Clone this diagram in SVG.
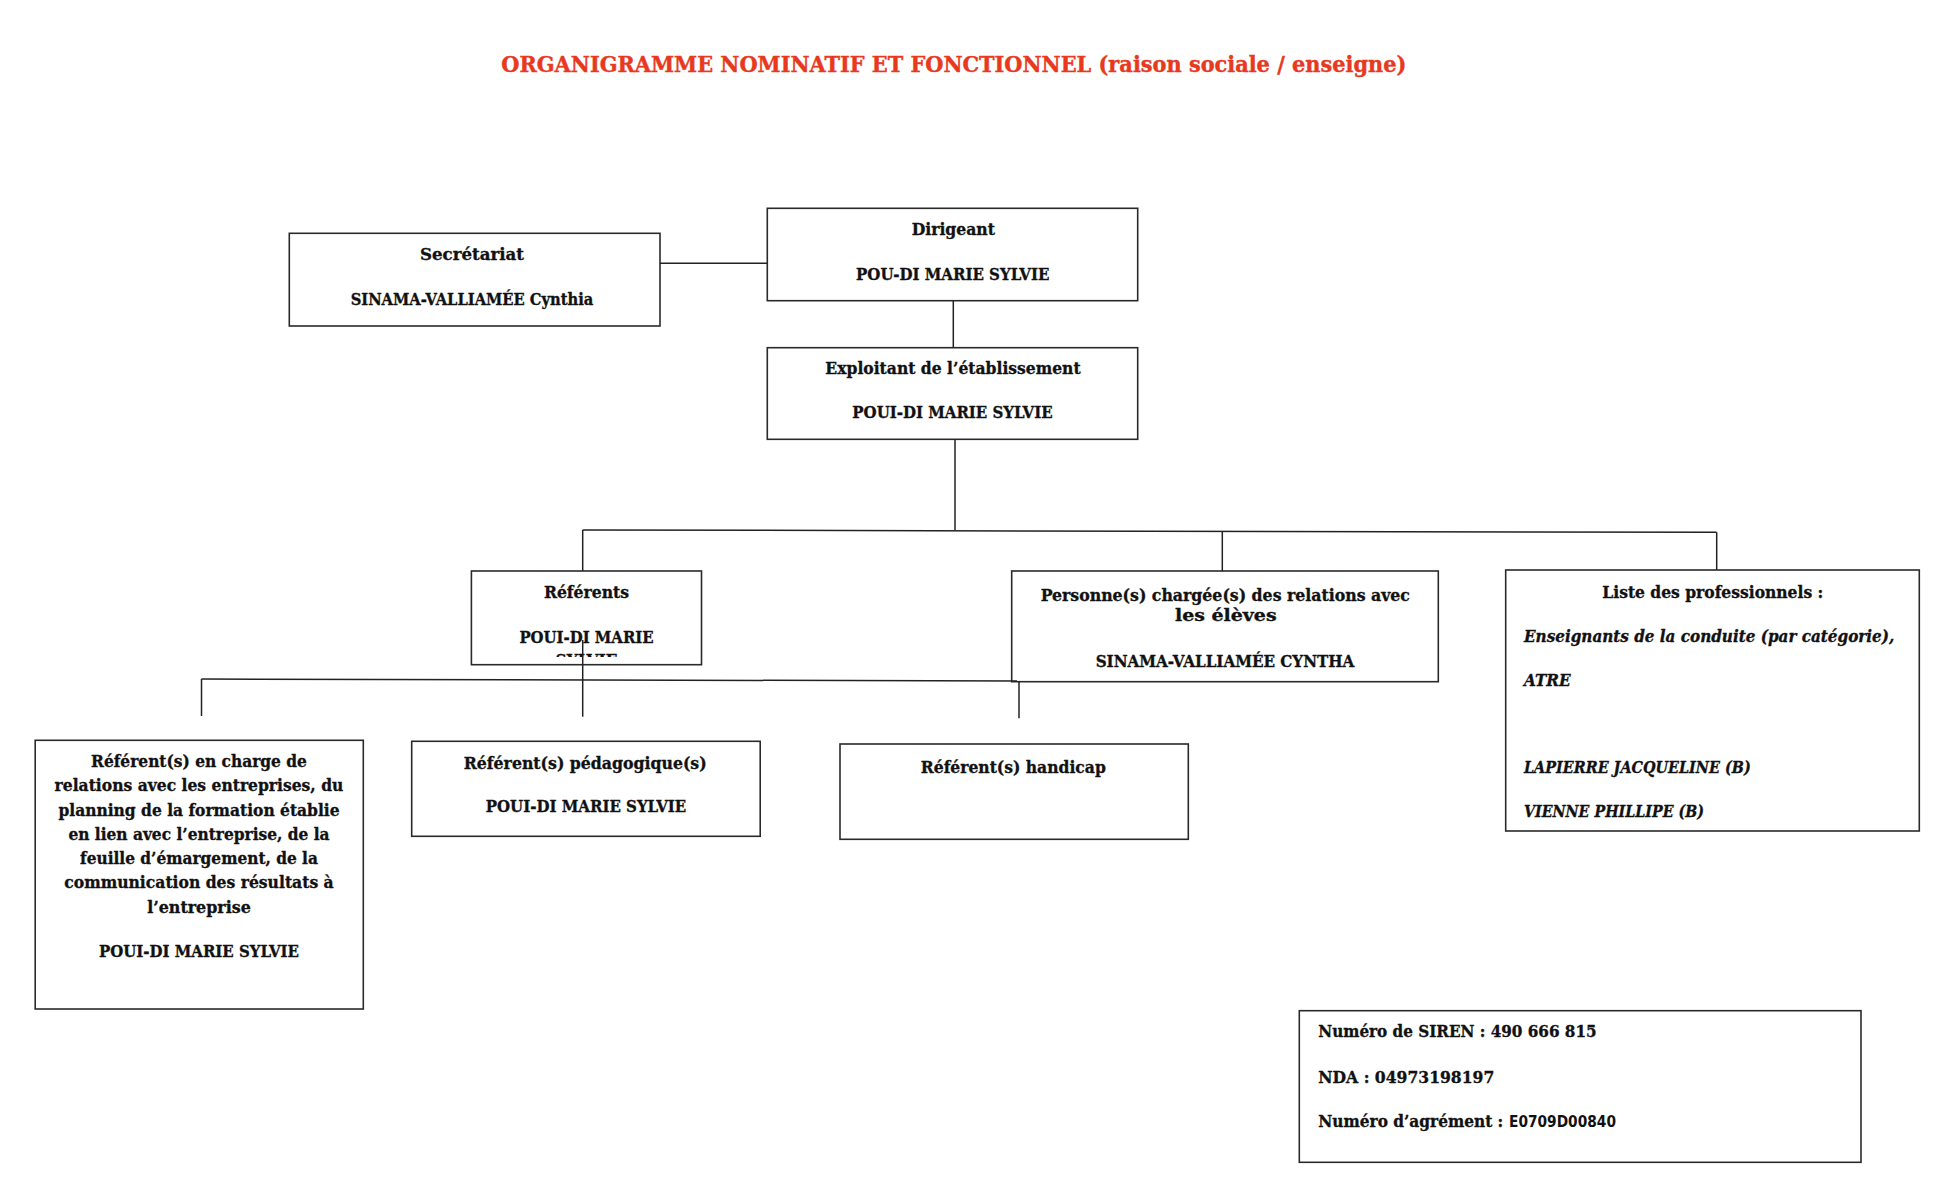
<svg xmlns="http://www.w3.org/2000/svg" width="1946" height="1198" viewBox="0 0 1946 1198">
<style>
  .box { fill: #ffffff; stroke: #2a2a2a; stroke-width: 1.6; }
  .conn { fill: none; stroke: #222222; stroke-width: 1.5; }
  .t { font-family: "DejaVu Serif Condensed", "DejaVu Serif", "Liberation Serif", serif; font-weight: bold; font-size: 16.5px; fill: #111111; stroke: #111111; stroke-width: 0.3; }
  .c { text-anchor: middle; }
  .i { font-style: italic; }
  .title { font-family: "DejaVu Serif Condensed", "DejaVu Serif", "Liberation Serif", serif; font-weight: bold; font-size: 23px; fill: #E8381E; stroke: #E8381E; stroke-width: 0.4; text-anchor: middle; }
  .sans { font-family: "DejaVu Sans Condensed", "DejaVu Sans", "Liberation Sans", sans-serif; font-weight: bold; font-size: 15.5px; fill: #111111; }
</style>
<defs>
  <clipPath id="refclip"><rect x="472" y="572" width="229" height="85"/></clipPath>
</defs>
<rect x="0" y="0" width="1946" height="1198" fill="#ffffff"/>

<text class="title" x="953.8" y="71.7" textLength="905" lengthAdjust="spacingAndGlyphs">ORGANIGRAMME NOMINATIF ET FONCTIONNEL (raison sociale / enseigne)</text>

<g id="node-secretariat">
  <rect class="box" x="289.3" y="233.3" width="370.7" height="92.7"/>
  <text class="t c" x="472" y="260" textLength="104" lengthAdjust="spacingAndGlyphs">Secrétariat</text>
  <text class="t c" x="472" y="305" textLength="242.7" lengthAdjust="spacingAndGlyphs">SINAMA-VALLIAMÉE Cynthia</text>
</g>

<g id="node-dirigeant">
  <rect class="box" x="767.3" y="208.3" width="370.4" height="92.4"/>
  <text class="t c" x="953.3" y="235" textLength="83.3" lengthAdjust="spacingAndGlyphs">Dirigeant</text>
  <text class="t c" x="952.7" y="280" textLength="193.3" lengthAdjust="spacingAndGlyphs">POU-DI MARIE SYLVIE</text>
</g>

<g id="node-exploitant">
  <rect class="box" x="767.3" y="347.7" width="370.4" height="91.6"/>
  <text class="t c" x="953" y="374" textLength="255.3" lengthAdjust="spacingAndGlyphs">Exploitant de l’établissement</text>
  <text class="t c" x="952.5" y="418.3" textLength="200.3" lengthAdjust="spacingAndGlyphs">POUI-DI MARIE SYLVIE</text>
</g>

<g id="node-referents">
  <rect class="box" x="471.4" y="571" width="230.1" height="93.7"/>
  <text class="t c" x="586.5" y="598" textLength="85.2" lengthAdjust="spacingAndGlyphs">Référents</text>
  <text class="t c" x="586.5" y="642.7" textLength="134.2" lengthAdjust="spacingAndGlyphs">POUI-DI MARIE</text>
  <text class="t c" x="586.5" y="666.4" textLength="62" lengthAdjust="spacingAndGlyphs" clip-path="url(#refclip)">SYLVIE</text>
</g>

<g id="node-personne">
  <rect class="box" x="1011.7" y="571" width="426.6" height="110.7"/>
  <text class="t c" x="1225.3" y="601" textLength="369.3" lengthAdjust="spacingAndGlyphs">Personne(s) chargée(s) des relations avec</text>
  <text class="t c" x="1225.8" y="621" textLength="101.7" lengthAdjust="spacingAndGlyphs">les élèves</text>
  <text class="t c" x="1225" y="666.7" textLength="258.7" lengthAdjust="spacingAndGlyphs">SINAMA-VALLIAMÉE CYNTHA</text>
</g>

<g id="node-liste">
  <rect class="box" x="1505.7" y="570" width="413.6" height="261"/>
  <text class="t c" x="1712.8" y="598.3" textLength="221" lengthAdjust="spacingAndGlyphs">Liste des professionnels :</text>
  <text class="t i" x="1524" y="641.7" textLength="370.3" lengthAdjust="spacingAndGlyphs">Enseignants de la conduite (par catégorie),</text>
  <text class="t i" x="1524" y="685.7" textLength="46.7" lengthAdjust="spacingAndGlyphs">ATRE</text>
  <text class="t i" x="1524" y="773.3" textLength="226.7" lengthAdjust="spacingAndGlyphs">LAPIERRE JACQUELINE (B)</text>
  <text class="t i" x="1524" y="817.3" textLength="180" lengthAdjust="spacingAndGlyphs">VIENNE PHILLIPE (B)</text>
</g>

<g id="node-ref-entreprises">
  <rect class="box" x="35.2" y="740.3" width="328.1" height="268.7"/>
  <text class="t c" x="199" y="767" textLength="215.8" lengthAdjust="spacingAndGlyphs">Référent(s) en charge de</text>
  <text class="t c" x="199" y="791.3" textLength="288.8" lengthAdjust="spacingAndGlyphs">relations avec les entreprises, du</text>
  <text class="t c" x="199" y="815.5" textLength="281.1" lengthAdjust="spacingAndGlyphs">planning de la formation établie</text>
  <text class="t c" x="199" y="839.7" textLength="261.2" lengthAdjust="spacingAndGlyphs">en lien avec l’entreprise, de la</text>
  <text class="t c" x="199" y="864" textLength="237.8" lengthAdjust="spacingAndGlyphs">feuille d’émargement, de la</text>
  <text class="t c" x="199" y="888.3" textLength="269.4" lengthAdjust="spacingAndGlyphs">communication des résultats à</text>
  <text class="t c" x="199" y="912.5" textLength="103.6" lengthAdjust="spacingAndGlyphs">l’entreprise</text>
  <text class="t c" x="199" y="957" textLength="200" lengthAdjust="spacingAndGlyphs">POUI-DI MARIE SYLVIE</text>
</g>

<g id="node-ref-pedagogique">
  <rect class="box" x="411.7" y="741.3" width="348.5" height="95"/>
  <text class="t c" x="585.2" y="769.3" textLength="242.9" lengthAdjust="spacingAndGlyphs">Référent(s) pédagogique(s)</text>
  <text class="t c" x="586" y="811.7" textLength="200.5" lengthAdjust="spacingAndGlyphs">POUI-DI MARIE SYLVIE</text>
</g>

<g id="node-ref-handicap">
  <rect class="box" x="840" y="744" width="348.3" height="95.3"/>
  <text class="t c" x="1013.3" y="773.3" textLength="185" lengthAdjust="spacingAndGlyphs">Référent(s) handicap</text>
</g>

<g id="node-infos">
  <rect class="box" x="1299.3" y="1010.7" width="561.7" height="151.6"/>
  <text class="t" x="1318.3" y="1037.3" textLength="278.3" lengthAdjust="spacingAndGlyphs">Numéro de SIREN : 490 666 815</text>
  <text class="t" x="1318.3" y="1082.7" textLength="176" lengthAdjust="spacingAndGlyphs">NDA : 04973198197</text>
  <text class="t" x="1318.3" y="1127.3" textLength="185" lengthAdjust="spacingAndGlyphs">Numéro d’agrément :</text>
  <text class="sans" x="1509" y="1127.3" textLength="107" lengthAdjust="spacingAndGlyphs">E0709D00840</text>
</g>

<g id="connectors">
  <line class="conn" x1="660" y1="263.3" x2="767.3" y2="263.3"/>
  <line class="conn" x1="953.3" y1="300.7" x2="953.3" y2="347.7"/>
  <line class="conn" x1="955" y1="439.3" x2="955" y2="530.6"/>
  <polyline class="conn" points="582.7,530 1716.7,532.3"/>
  <line class="conn" x1="582.7" y1="530" x2="582.7" y2="571"/>
  <line class="conn" x1="1222.3" y1="531.3" x2="1222.3" y2="571"/>
  <line class="conn" x1="1716.7" y1="532.3" x2="1716.7" y2="570"/>
  <polyline class="conn" points="201.5,679 1019,681"/>
  <line class="conn" x1="201.5" y1="679" x2="201.5" y2="716"/>
  <line class="conn" x1="582.7" y1="640" x2="582.7" y2="716.7"/>
  <line class="conn" x1="1019" y1="681" x2="1019" y2="718.3"/>
</g>
</svg>
